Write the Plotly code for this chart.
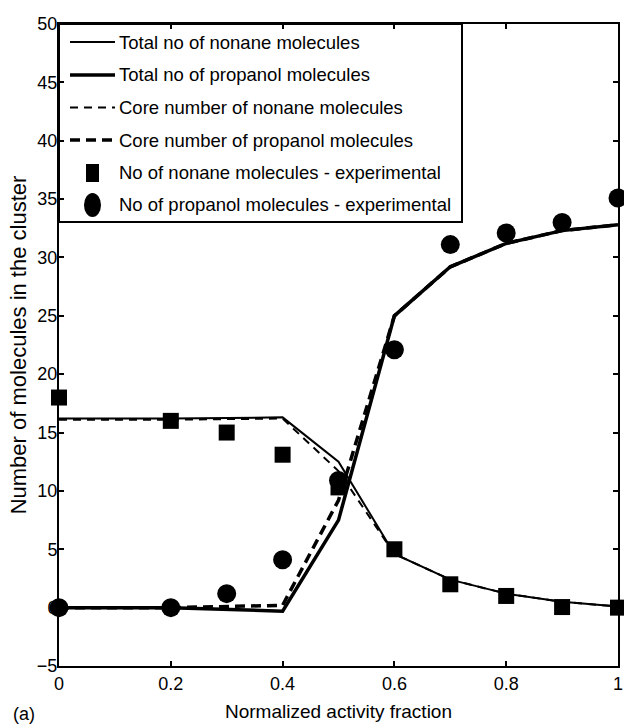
import plotly.graph_objects as go

# Model curves (computed at the model grid)
x_model = [0.0, 0.2, 0.4, 0.5, 0.6, 0.7, 0.8, 0.9, 1.0]
nonane_total = [16.2, 16.2, 16.3, 12.5, 4.6, 2.4, 1.2, 0.5, 0.1]
propanol_total = [0.0, 0.0, -0.3, 7.5, 25.0, 29.2, 31.2, 32.3, 32.8]
nonane_core = [16.1, 16.1, 16.2, 11.7, 4.6, 2.4, 1.2, 0.5, 0.1]
propanol_core = [0.0, 0.0, 0.2, 9.2, 25.0, 29.2, 31.2, 32.3, 32.8]

# Experimental points
x_exp = [0.0, 0.2, 0.3, 0.4, 0.5, 0.6, 0.7, 0.8, 0.9, 1.0]
nonane_exp = [18.0, 16.0, 15.0, 13.1, 10.3, 5.0, 2.0, 1.0, 0.05, 0.0]
propanol_exp = [0.0, 0.0, 1.2, 4.1, 10.9, 22.1, 31.1, 32.1, 33.0, 35.1]

x_ticks = [0, 0.2, 0.4, 0.6, 0.8, 1]
x_tick_text = ["0", "0.2", "0.4", "0.6", "0.8", "1"]
y_ticks = [-5, 0, 5, 10, 15, 20, 25, 30, 35, 40, 45, 50]

legend_labels = [
    "Total no of nonane molecules",
    "Total no of propanol molecules",
    "Core number of nonane molecules",
    "Core number of propanol molecules",
    "No of nonane molecules - experimental",
    "No of propanol molecules - experimental",
]

FONT = "Liberation Sans, Arial, Helvetica, sans-serif"
W, H = 624, 725
L, R, T, B = 59, 6, 24, 59
PW, PH = W - L - R, H - T - B


def px(xp):
    return (xp - L) / PW


def py(yp):
    return (H - B - yp) / PH


fig = go.Figure()

fig.add_trace(go.Scatter(x=x_model, y=nonane_total, mode="lines",
                         line=dict(color="black", width=2), cliponaxis=False))
fig.add_trace(go.Scatter(x=x_model, y=propanol_total, mode="lines",
                         line=dict(color="black", width=3.5), cliponaxis=False))
fig.add_trace(go.Scatter(x=x_model, y=nonane_core, mode="lines",
                         line=dict(color="black", width=2, dash="8px,6px"),
                         cliponaxis=False))
fig.add_trace(go.Scatter(x=x_model, y=propanol_core, mode="lines",
                         line=dict(color="black", width=3.5, dash="10px,6px"),
                         cliponaxis=False))
fig.add_trace(go.Scatter(x=x_exp, y=nonane_exp, mode="markers",
                         marker=dict(symbol="square", size=16, color="black"),
                         cliponaxis=False))
fig.add_trace(go.Scatter(x=x_exp, y=propanol_exp, mode="markers",
                         marker=dict(symbol="circle", size=19, color="black"),
                         cliponaxis=False))

# Legend box drawn by hand
shapes = [dict(type="rect", xref="paper", yref="paper",
               x0=0, x1=px(462), y0=py(222), y1=1,
               line=dict(color="black", width=2), fillcolor="rgba(0,0,0,0)")]
annotations = []
row_y = [42, 75, 107.5, 140, 173, 205]
line_styles = [(2, "solid"), (3.5, "solid"), (2, "8px,6px"), (3.5, "10px,6px")]
for i, (lw, dash) in enumerate(line_styles):
    shapes.append(dict(type="line", xref="paper", yref="paper",
                       x0=px(70), x1=px(115), y0=py(row_y[i]), y1=py(row_y[i]),
                       line=dict(color="black", width=lw, dash=dash)))
# square sample
shapes.append(dict(type="rect", xref="paper", yref="paper",
                   x0=px(86), x1=px(99), y0=py(row_y[4] + 9), y1=py(row_y[4] - 9),
                   line=dict(width=0), fillcolor="black"))
# circle sample
shapes.append(dict(type="circle", xref="paper", yref="paper",
                   x0=px(84), x1=px(101), y0=py(row_y[5] + 12), y1=py(row_y[5] - 12),
                   line=dict(width=0), fillcolor="black"))
for i, lab in enumerate(legend_labels):
    annotations.append(dict(text=lab, xref="paper", yref="paper",
                            x=px(117), y=py(row_y[i]), xanchor="left", yanchor="middle",
                            showarrow=False, font=dict(family=FONT, size=18.5, color="black")))

annotations.append(dict(text="(a)", xref="paper", yref="paper", x=px(11), y=py(714),
                        xanchor="left", yanchor="middle", showarrow=False,
                        font=dict(family=FONT, size=18, color="black")))

axis_common = dict(showgrid=False, zeroline=False, showline=True, linecolor="black",
                   linewidth=2, mirror="ticks", ticks="inside", ticklen=5,
                   tickcolor="black", tickwidth=1.5, layer="below traces",
                   ticklabeloverflow="allow", automargin=False,
                   tickfont=dict(family=FONT, size=18, color="black"))

fig.update_layout(
    width=W, height=H, autosize=False,
    margin=dict(l=L, r=R, t=T, b=B),
    paper_bgcolor="white", plot_bgcolor="white",
    showlegend=False,
    shapes=shapes, annotations=annotations,
    xaxis=dict(range=[0, 1], tickvals=x_ticks, ticktext=x_tick_text,
               title=dict(text="Normalized activity fraction", standoff=12,
                          font=dict(family=FONT, size=19, color="black")),
               **axis_common),
    yaxis=dict(range=[-5, 50], tickvals=y_ticks, ticklabelstandoff=-4,
               title=dict(text="Number of molecules in the cluster", standoff=4,
                          font=dict(family=FONT, size=22, color="black")),
               **axis_common),
)

fig.write_html("out.html")
